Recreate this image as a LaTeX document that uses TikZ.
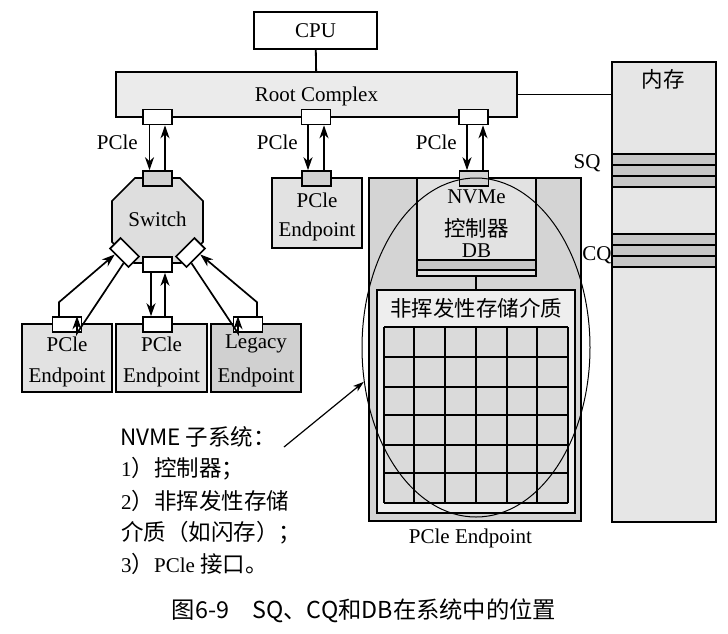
\documentclass[tikz,border=0pt]{standalone}
\usepackage{fontspec}
\setmainfont{Liberation Serif}
\newfontfamily\cjk{Noto Sans CJK SC}
\usetikzlibrary{shapes.geometric,arrows.meta,calc}
\definecolor{cRC}{HTML}{EBEBEB}
\definecolor{cSw}{HTML}{DEDEDE}
\definecolor{cEp}{HTML}{E2E2E2}
\definecolor{cLeg}{HTML}{D0D0D0}
\definecolor{cNv}{HTML}{D4D4D4}
\definecolor{cSt}{HTML}{EEEEEE}
\definecolor{cCell}{HTML}{DADADA}
\definecolor{cMem}{HTML}{E6E6E6}
\definecolor{cBand}{HTML}{C6C6C6}
\definecolor{cPort}{HTML}{D2D2D2}
\begin{document}
\begin{tikzpicture}[x=1pt,y=-1pt,
  box/.style={draw,line width=1.8pt,inner sep=0pt,align=center,font=\fontsize{21}{34}\selectfont},
  port/.style={draw,line width=1.6pt,inner sep=0pt,minimum width=29pt,minimum height=15pt},
  wport/.style={port,fill=white},
  gport/.style={port,fill=cPort},
  link/.style={line width=1.7pt,-{Stealth[length=13pt,width=9pt,inset=4pt]}},
  lbl/.style={inner sep=0pt,font=\fontsize{21}{34}\selectfont},
  cj/.style={inner sep=0pt,font=\cjk\fontsize{21.5}{26}\selectfont},
  cjl/.style={inner sep=0pt,font=\cjk\fontsize{22.5}{26}\selectfont},
  band/.style={line width=1.5pt,fill=cBand},
]
\fill[white] (0,0) rectangle (728,633);
\useasboundingbox (0,0) rectangle (728,633);

% memory
\node[box,fill=cMem,minimum width=104pt,minimum height=460pt] (mem) at (664,292) {};
\node[cj] (memt) at (663,79) {内存};
\foreach \a/\b in {154/165,165/176,176/187,234/245,245/256,256/267}
  \draw[band] (612,\a) rectangle (716,\b);
\node[lbl] (sq) at (587,163) {SQ};
\node[lbl] (cq) at (597,255) {CQ};

% CPU and root complex
\node[box,minimum width=123pt,minimum height=37pt] (cpu) at (315.5,30.5) {CPU};
\node[box,fill=cRC,minimum width=401pt,minimum height=45pt] (rc) at (316.5,94.5) {};
\node[lbl] (rct) at (316.5,96) {Root Complex};
\draw[line width=1.8pt] (cpu) -- (rc);
\draw[line width=1.4pt] (rc.east) -- (rc.east -| mem.west);
\node[wport] (rp1) at (157.5,117) {};
\node[wport] (rp2) at (316,117) {};
\node[wport] (rp3) at (473.5,117) {};
\node[lbl,anchor=east] (l1) at (138,142) {PCle};
\node[lbl,anchor=east] (l2) at (298,142) {PCle};
\node[lbl,anchor=east] (l3) at (457,142) {PCle};

% switch
\draw[line width=1.6pt,fill=cSw] (135,178) -- (180,178) -- (203,201) -- (203,242) -- (181,263) -- (134,263) -- (112,242) -- (112,201) -- cycle;
\node[lbl] (sw) at (157.5,219) {Switch};
\node[gport] (swt) at (157.5,178.5) {};
\node[wport] (swb) at (157.5,264.5) {};
\node[wport,minimum width=26pt,rotate=-45] (swl) at (124.5,252.5) {};
\node[wport,minimum width=26pt,rotate=45] (swr) at (190.5,252.5) {};

\draw[link] ([xshift=-8pt]rp1.south) -- ([xshift=-8pt]swt.north);
\draw[link] ([xshift=7.5pt]swt.north) -- ([xshift=7.5pt]rp1.south);

% endpoints under switch
\node[box,fill=cEp,minimum width=90pt,minimum height=68pt] (ep1) at (67,358) {};
\node[box,fill=cEp,minimum width=91pt,minimum height=68pt] (ep2) at (161.5,358) {};
\node[box,fill=cLeg,minimum width=90pt,minimum height=68pt] (ep3) at (256,358) {};
\node[lbl] (ep1a) at (67,344) {PCle};
\node[lbl] (ep1b) at (67,377) {Endpoint};
\node[lbl] (ep2a) at (161.5,344) {PCle};
\node[lbl] (ep2b) at (161.5,377) {Endpoint};
\node[lbl] (ep3a) at (256,344) {Legacy};
\node[lbl] (ep3b) at (256,377) {Endpoint};
\node[wport] (ep1p) at (67,324.5) {};
\node[wport] (ep2p) at (157.5,324.5) {};
\node[wport] (ep3p) at (248,324.5) {};

\draw[link] ([xshift=-6.5pt]swb.south) -- ([xshift=-6.5pt]ep2p.north);
\draw[link] ([xshift=7.5pt]ep2p.north) -- ([xshift=7.5pt]swb.south);
\draw[link] ([xshift=-8pt]ep1p.north) -- ++(0,-14) -- ($(swl.south west)!0.3!(swl.south east)$);
\draw[link] ($(swl.south west)!0.75!(swl.south east)$) -- ([xshift=10pt,yshift=-17pt]ep1p.north) -- ([xshift=10pt]ep1p.north);
\draw[link] ([xshift=9pt]ep3p.north) -- ++(0,-14) -- ($(swr.south east)!0.3!(swr.south west)$);
\draw[link] ($(swr.south east)!0.75!(swr.south west)$) -- ([xshift=-10pt,yshift=-17pt]ep3p.north) -- ([xshift=-10pt]ep3p.north);

% middle endpoint
\node[box,fill=cEp,minimum width=90pt,minimum height=70pt] (pe) at (317,213) {};
\node[lbl] (pea) at (317,200) {PCle};
\node[lbl] (peb) at (317,231) {Endpoint};
\node[gport] (pep) at (316.5,178.5) {};
\draw[link] ([xshift=-8pt]rp2.south) -- ([xshift=-8.5pt]pep.north);
\draw[link] ([xshift=7.5pt]pep.north) -- ([xshift=8pt]rp2.south);

% NVMe endpoint
\node[box,fill=cNv,minimum width=212pt,minimum height=343pt] (nv) at (475,349.5) {};
\node[box,fill=cEp,minimum width=119pt,minimum height=82pt] (ctrl) at (476.5,219) {};
\draw[band] (417,260) rectangle (536,270);
\draw[line width=1.5pt,fill=cEp] (417,270) rectangle (536,276);
\node[lbl] (nvme) at (476.5,197) {NVMe};
\node[cj] (ctrlt) at (476.5,228) {控制器};
\node[lbl] (db) at (476.5,251) {DB};
\node[gport] (nvp) at (474,178.5) {};
\draw[link] ([xshift=-6.5pt]rp3.south) -- ([xshift=-7pt]nvp.north);
\draw[link] ([xshift=9pt]nvp.north) -- ([xshift=9.5pt]rp3.south);

\node[box,fill=cSt,minimum width=198pt,minimum height=223pt] (st) at (476,401.5) {};
\coordinate (ctrlb) at (476,276);
\draw[line width=1.4pt] (ctrlb) -- (ctrlb |- st.north);
\node[cj] (stt) at (476,308) {非挥发性存储介质};
\fill[cCell] (384,327) rectangle (568,503);
\foreach \x in {384,414,445,476,507,537,568}
  \draw[line width=1.8pt] (\x,327) -- (\x,503);
\foreach \y in {327,387,445,503}
  \draw[line width=1.8pt] (384,\y) -- (568,\y);
\foreach \y in {357,415,473}
  \draw[line width=1.2pt] (384,\y) -- (568,\y);

\node[draw,ellipse,line width=1pt,minimum width=228pt,minimum height=339pt,inner sep=0pt] (ell) at (476,347.5) {};
\node[lbl] (pel) at (470.5,538) {PCle Endpoint};

% left text
\node[cjl,anchor=west] (t0) at (120,437) {NVME 子系统：};
\node[lbl,anchor=west] (t1) at (121,469) {1{\cjk\fontsize{22.5}{26}\selectfont ）控制器；}};
\node[lbl,anchor=west] (t2) at (121,501) {2{\cjk\fontsize{22.5}{26}\selectfont ）非挥发性存储}};
\node[cjl,anchor=west] (t3) at (121,533) {介质（如闪存）；};
\node[lbl,anchor=west] (t4) at (121,564) {3{\cjk\fontsize{22.5}{26}\selectfont ）}PCle {\cjk\fontsize{22.5}{26}\selectfont 接口。}};
\coordinate (tail) at (284,447);
\draw[line width=1.2pt,-{Stealth[length=11pt,width=7pt,inset=3pt]}] (tail) -- (ell.197);

% caption
\node[inner sep=0pt,font=\cjk\fontsize{23.3}{26}\selectfont] (cap) at (364,611) {图6-9\quad SQ、CQ和DB在系统中的位置};
\end{tikzpicture}
\end{document}
